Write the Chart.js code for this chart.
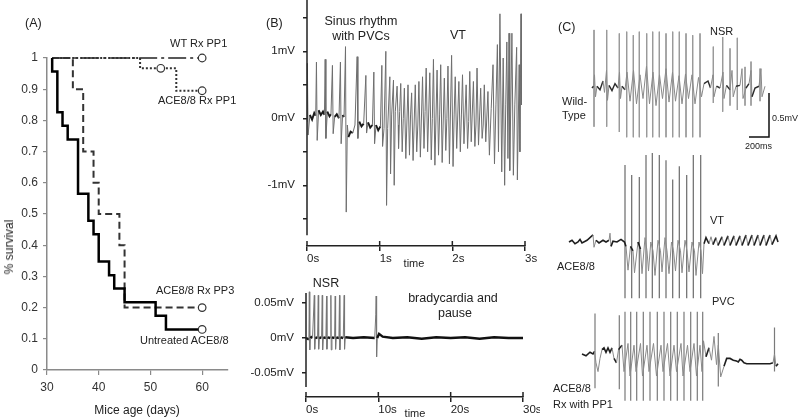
<!DOCTYPE html>
<html>
<head>
<meta charset="utf-8">
<script src="https://cdn.jsdelivr.net/npm/chart.js@4.4.0/dist/chart.umd.min.js"></script>
<style>
  body { margin: 0; width: 800px; height: 418px; background: #fff; overflow: hidden; position: relative; }
  canvas { position: absolute; }
  .t { position: absolute; font: 12px 'Liberation Sans', Arial, sans-serif; color: #222; white-space: nowrap; line-height: 14px; transform: translate(-50%, -50%); text-align: center; }
  .l { transform: translate(0, -50%); text-align: left; }
  .sm { font-size: 11px; }
  .xs { font-size: 9px; }
</style>
</head>
<body>
<canvas id="survival" style="left:0;top:0" width="280" height="418"></canvas>
<canvas id="ecgTop" style="left:240px;top:0" width="300" height="270"></canvas>
<canvas id="ecgBottom" style="left:240px;top:270px" width="300" height="148"></canvas>
<canvas id="traces" style="left:550px;top:0" width="250" height="418"></canvas>

<!-- panel A text -->
<div class="t l" style="left:25px;top:23px;font-size:12.5px">(A)</div>
<div class="t l sm" style="left:170px;top:43px">WT Rx PP1</div>
<div class="t l sm" style="left:158px;top:100px">ACE8/8 Rx PP1</div>
<div class="t l sm" style="left:156px;top:290px">ACE8/8 Rx PP3</div>
<div class="t l sm" style="left:140px;top:340px">Untreated ACE8/8</div>
<div class="t" style="left:9px;top:247px;transform:translate(-50%,-50%) rotate(-90deg)">% survival</div>
<div class="t" style="left:137px;top:410px">Mice age (days)</div>

<!-- panel B text -->
<div class="t l" style="left:266px;top:23px;font-size:12.5px">(B)</div>
<div class="t" style="left:361px;top:21px;font-size:12.5px">Sinus rhythm</div>
<div class="t" style="left:361px;top:36px;font-size:12.5px">with PVCs</div>
<div class="t" style="left:458px;top:35px;font-size:12.5px">VT</div>
<div class="t sm" style="left:414px;top:263px">time</div>
<div class="t" style="left:326px;top:283px;font-size:12.5px">NSR</div>
<div class="t" style="left:453px;top:298px;font-size:12.5px">bradycardia and</div>
<div class="t" style="left:455px;top:313px;font-size:12.5px">pause</div>
<div class="t sm" style="left:415px;top:413px">time</div>

<!-- panel C text -->
<div class="t l" style="left:558px;top:27px;font-size:12.5px">(C)</div>
<div class="t l sm" style="left:710px;top:31px">NSR</div>
<div class="t l sm" style="left:562px;top:101px">Wild-</div>
<div class="t l sm" style="left:562px;top:115px">Type</div>
<div class="t l xs" style="left:772px;top:118px">0.5mV</div>
<div class="t l xs" style="left:745px;top:146px">200ms</div>
<div class="t l sm" style="left:710px;top:220px">VT</div>
<div class="t l sm" style="left:557px;top:266px">ACE8/8</div>
<div class="t l sm" style="left:712px;top:301px">PVC</div>
<div class="t l sm" style="left:553px;top:388px">ACE8/8</div>
<div class="t l sm" style="left:553px;top:404px">Rx with PP1</div>

<script>
Chart.defaults.font.family = "'Liberation Sans', Arial, sans-serif";
Chart.defaults.color = '#333';

// (A) Kaplan-Meier survival, age in days vs fraction surviving
const untreatedDays = [31, 31, 32, 33, 34, 36, 38, 39, 40, 42, 43, 45, 51, 53, 60];
const untreatedSurv = [1, 0.957, 0.826, 0.783, 0.739, 0.565, 0.478, 0.435, 0.348, 0.304, 0.261, 0.217, 0.174, 0.130, 0.130];
const pp3Days = [31, 35, 37, 39, 40, 44, 45, 60];
const pp3Surv = [1, 0.9, 0.7, 0.6, 0.5, 0.4, 0.2, 0.2];
const pp1Days = [31, 48, 55, 60];
const pp1Surv = [1, 0.967, 0.895, 0.895];
const wtDays = [31, 60];
const wtSurv = [1, 1];
const censorDays = [60, 52, 60, 60, 60];
const censorSurv = [1, 0.967, 0.895, 0.2, 0.13];

// (B) top: seconds, mV
const vtTrace = [
  [0.00,-0.05],[0.005,0.82],[0.015,-0.25],[0.04,0.05],[0.07,-0.02],[0.10,0.08],[0.12,0.04],
  [0.13,0.84],[0.14,-0.33],[0.16,0.12],[0.19,0.05],[0.22,0.1],[0.24,0.05],
  [0.25,0.88],[0.26,-0.30],[0.28,0.1],[0.31,0.03],[0.33,0.06],
  [0.35,0.79],[0.36,-0.23],[0.38,0.02],[0.41,0.06],[0.44,0.0],
  [0.46,0.84],[0.47,-0.38],[0.49,0.05],[0.51,0.02],
  [0.53,1.07],[0.54,-1.40],[0.555,-0.1],[0.57,-0.28],[0.60,-0.2],[0.63,-0.22],[0.66,-0.1],
  [0.69,0.92],[0.70,-0.30],[0.72,-0.05],[0.75,-0.12],[0.78,-0.08],
  [0.81,0.64],[0.82,-0.22],[0.84,-0.06],[0.87,-0.14],[0.90,-0.1],
  [0.92,0.69],[0.93,-0.38],[0.95,-0.1],[0.98,-0.18],[1.01,-0.12],
  [1.03,0.79],[1.04,-0.42],[1.06,-0.15],
  [1.085,1.0],[1.095,-1.30],[1.11,-0.15],
  [1.14,0.62],[1.15,-0.83],[1.165,0.05],
  [1.19,0.57],[1.20,-1.0],[1.215,0.1],
  [1.24,0.48],[1.255,-0.1],[1.26,-0.45],[1.275,0.1],[1.29,0.52],[1.31,-0.5],[1.325,0.0],[1.34,0.45],[1.36,-0.6],[1.39,0.5],[1.41,-0.55],
  [1.425,0.05],[1.44,0.38],[1.46,-0.63],[1.49,0.5],[1.51,-0.5],[1.525,-0.1],[1.54,0.55],[1.56,-0.58],[1.59,0.62],[1.61,-0.45],
  [1.625,0.1],[1.64,0.75],[1.66,-0.5],[1.69,0.68],[1.71,-0.62],[1.725,0.0],[1.74,0.88],[1.76,-0.7],[1.79,0.72],[1.81,-0.55],
  [1.825,0.05],[1.84,0.8],[1.86,-0.66],[1.89,0.6],[1.91,-0.48],[1.925,0.0],[1.94,0.78],[1.96,-0.68],[1.99,0.94],[2.01,-0.72],
  [2.025,0.05],[2.04,0.62],[2.06,-0.45],[2.09,0.55],[2.11,-0.5],[2.125,0.05],[2.14,0.65],[2.16,-0.38],[2.19,0.5],[2.21,-0.45],
  [2.225,-0.05],[2.24,0.7],[2.26,-0.35],[2.29,0.55],[2.31,-0.42],[2.325,-0.1],[2.34,0.75],[2.36,-0.4],[2.39,0.45],[2.41,-0.3],
  [2.425,-0.1],[2.44,0.5],[2.46,-0.35],[2.49,0.4],[2.51,-0.55],[2.535,0.15],
  [2.56,0.8],[2.58,-0.68],[2.60,0.2],[2.62,1.1],[2.635,-0.5],[2.655,1.56],[2.68,-0.8],[2.70,0.9],[2.72,-1.0],
  [2.735,0.2],[2.75,1.14],[2.765,-0.6],[2.78,1.27],[2.79,-0.78],[2.82,1.27],[2.84,-0.85],[2.86,0.2],[2.885,1.06],[2.895,-0.92],
  [2.92,0.8],[2.93,-0.5],[2.945,1.56],[2.95,0.2]
];
// (B) bottom: seconds, mV
const bradyTrace = [
  [0.0,0.0],[0.4,-0.002],[0.46,0.066],[0.52,-0.017],[0.6,0.002],[0.9,0.0],
  [1.15,0.061],[1.2,-0.016],[1.3,0.001],[1.6,0.0],
  [1.70,0.061],[1.75,-0.016],[1.85,0.001],[2.15,0.0],
  [2.25,0.061],[2.3,-0.017],[2.4,0.001],[2.75,0.0],
  [2.84,0.06],[2.89,-0.016],[2.99,0.001],[3.35,0.0],
  [3.44,0.061],[3.49,-0.017],[3.59,0.001],[3.95,0.0],
  [4.04,0.06],[4.09,-0.016],[4.19,0.001],[4.55,0.0],
  [4.63,0.061],[4.68,-0.017],[4.78,0.001],[5.15,0.0],
  [5.28,0.061],[5.33,-0.016],[5.43,0.001],
  [6.5,0.0],[8.0,0.001],[9.5,0.0],[9.65,0.034],[9.7,0.06],[9.76,-0.027],[9.85,0.0],[10.1,0.006],[10.6,0.002],
  [12,0.0],[14,0.001],[16,-0.001],[18,0.001],[20,0.0],[22,0.001],[24,-0.001],[26,0.001],[28,0.0],[30.0,0.0],
  [30.8,0.0],[30.87,0.071],[30.93,-0.024],[31.05,0.0],[31.5,0.01],[32.0,0.004],[32.8,0.001]
];

// (C) traces: ms, mV (baseline = 0)
const wtTrace = [
  [0,0],[15,0.02],[25,0.15],[35,-0.1],[50,0.02],[80,-0.02],[110,0.08],[125,-0.05],[145,0.2],[155,-0.14],
  [170,0.03],[200,-0.03],[230,0.05],[260,0.0],[275,0.18],[285,-0.12],[300,0.02],[330,-0.02],
  [350,0.18],[380,-0.15],[415,0.2],[445,-0.18],[480,0.15],[510,-0.12],[545,0.25],[575,-0.18],[610,0.18],[640,-0.2],
  [675,0.15],[705,-0.12],[740,0.22],[770,-0.16],[805,0.18],[835,-0.15],[870,0.14],[900,-0.18],[935,0.16],[965,-0.12],
  [1000,0.15],[1030,-0.18],[1065,0.12],[1095,-0.1],
  [1120,0.05],[1160,0.08],[1185,0.0],[1210,0.15],[1220,-0.1],[1245,0.02],[1280,0.0],[1310,0.18],[1320,-0.12],
  [1345,0.03],[1380,-0.02],[1400,0.2],[1412,-0.1],[1440,0.02],[1480,0.03],[1500,0.22],[1510,-0.12],[1540,0.0],
  [1570,0.05],[1590,0.2],[1600,-0.1],[1630,0.0],[1670,0.02],[1690,0.22],[1700,-0.1],[1730,0.02]
];
const wtSpikeT = [20, 147, 273, 347, 413, 473, 547, 607, 673, 740, 807, 873, 940, 1007, 1080, 1213, 1307, 1380, 1453, 1530, 1590, 1680];
const wtSpikeUp = [0.66, 0.66, 0.62, 0.64, 0.6, 0.64, 0.62, 0.64, 0.64, 0.62, 0.64, 0.64, 0.62, 0.6, 0.62, 0.47, 0.58, 0.45, 0.57, 0.24, 0.3, 0.22];
const wtSpikeDown = [-0.44, -0.44, -0.5, -0.56, -0.56, -0.56, -0.56, -0.56, -0.56, -0.56, -0.56, -0.56, -0.56, -0.56, -0.56, -0.17, -0.27, -0.2, -0.25, -0.2, -0.2, -0.15];

const aceTrace = [
  [0,0],[30,0.02],[60,-0.02],[90,0.0],[110,0.03],[130,-0.01],[180,0.02],[240,0.08],[250,-0.06],[270,0.02],
  [300,-0.01],[340,0.02],[370,0.0],[400,0.02],[410,0.1],[420,-0.05],[440,0.01],[480,0.0],[520,0.03],[555,0.0],
  [570,-0.05],[590,-0.32],[615,-0.05],[640,-0.1],[655,-0.35],[690,0.0],[715,-0.08],[730,-0.36],[760,0.05],
  [780,-0.1],[795,-0.33],[818,0.0],[840,-0.1],[860,-0.38],[890,0.02],[915,-0.1],[930,-0.34],[960,0.05],
  [980,-0.1],[1000,-0.36],[1025,0.0],[1045,-0.1],[1065,-0.33],[1090,0.02],[1115,-0.1],[1130,-0.35],[1160,0.02],
  [1180,-0.1],[1200,-0.34],[1230,0.0],[1255,-0.1],[1270,-0.38],[1300,0.0],[1320,-0.1],[1335,-0.36],[1350,-0.02],
  [1370,0.05],[1400,-0.02],[1420,0.06],[1440,-0.03],[1470,0.05],[1490,-0.04],[1530,0.06],[1550,-0.04],
  [1590,0.07],[1610,-0.04],[1650,0.07],[1670,-0.04],[1710,0.07],[1730,-0.04],[1770,0.08],[1790,-0.04],
  [1830,0.08],[1850,-0.04],[1890,0.08],[1910,-0.04],[1950,0.08],[1970,-0.04],[2010,0.08],[2030,-0.03],
  [2070,0.07],[2090,0.0]
];
const aceSpikeT = [560, 627, 703, 770, 833, 903, 970, 1037, 1103, 1177, 1243, 1317];
const aceSpikeUp = [0.875, 0.76, 0.74, 0.99, 1.01, 0.99, 0.93, 0.71, 0.86, 0.76, 0.99, 0.99];
const aceSpikeDown = [-0.64, -0.64, -0.64, -0.64, -0.64, -0.64, -0.64, -0.64, -0.64, -0.64, -0.64, -0.64];

const pp1Trace = [
  [0,0],[40,-0.02],[80,0.02],[110,0.0],[125,0.03],[140,-0.1],[160,-0.2],[180,-0.05],[200,0.05],[220,0.07],
  [240,0.02],[260,0.07],[280,0.02],[300,0.07],[320,-0.05],[345,-0.1],[365,0.05],
  [400,0.1],[420,-0.2],[460,0.12],[480,-0.25],[520,0.1],[540,-0.2],[585,0.12],[605,-0.25],[650,0.1],[670,-0.2],
  [715,0.12],[745,-0.25],[790,0.1],[810,-0.2],[855,0.12],[880,-0.25],[920,0.1],[945,-0.2],[990,0.12],[1010,-0.25],
  [1055,0.1],[1080,-0.2],[1120,0.12],[1145,-0.25],[1180,0.1],[1200,-0.2],
  [1215,0.15],[1240,-0.03],[1270,0.07],[1295,-0.07],[1320,0.2],[1345,-0.12],[1363,0.1],[1387,-0.26],[1420,-0.14],
  [1447,-0.05],[1480,-0.05],[1513,-0.07],[1545,-0.08],[1563,-0.09],[1580,-0.06],[1597,-0.07],[1620,-0.1],
  [1647,-0.11],[1700,-0.11],[1800,-0.11],[1880,-0.11],[1910,-0.1],[1925,0.0],[1940,-0.14],[1960,-0.11]
];
const pp1SpikeT = [130, 373, 430, 487, 547, 613, 680, 753, 820, 887, 953, 1020, 1087, 1153, 1207, 1363, 1925];
const pp1SpikeUp = [0.46, 0.44, 0.48, 0.48, 0.48, 0.48, 0.48, 0.48, 0.48, 0.48, 0.48, 0.48, 0.48, 0.48, 0.48, 0.24, 0.3];
const pp1SpikeDown = [-0.39, -0.4, -0.53, -0.53, -0.53, -0.53, -0.53, -0.53, -0.53, -0.53, -0.53, -0.53, -0.53, -0.53, -0.53, -0.37, -0.2];

// scale bar 200 ms x 0.5 mV, in wild-type trace units
const scaleBarT = [1570, 1770, 1770];
const scaleBarV = [-0.557, -0.557, -0.057];

const pts = (xs, ys) => xs.map((x, i) => ({ x, y: ys[i] }));
const pairs = arr => arr.map(([x, y]) => ({ x, y }));
const spikes = (ts, up, down) => ts.flatMap((t, i) => [{ x: t, y: up[i] }, { x: t, y: down[i] }, { x: t, y: null }]);
const fix = (w, h) => s => {
  if (w != null) s.width = w;
  if (h != null) s.height = h;
  s.paddingTop = s.paddingBottom = s.paddingLeft = s.paddingRight = 0;
};
const base = { responsive: false, animation: false, devicePixelRatio: 1, plugins: { legend: { display: false }, tooltip: { enabled: false } } };

// steep strokes of a scanned trace look thin and gray, flat ones dark
const steep = ctx => Math.abs(ctx.p1.y - ctx.p0.y) > 2.5 * Math.abs(ctx.p1.x - ctx.p0.x) + 2;
const inkSegment = (flatColor, steepColor, flatW, steepW) => ({
  borderColor: ctx => steep(ctx) ? steepColor : flatColor,
  borderWidth: ctx => steep(ctx) ? steepW : flatW
});

// ---- (A)
const gray = '#8a8a8a';
new Chart(document.getElementById('survival'), {
  type: 'line',
  data: {
    datasets: [
      { data: pts(censorDays, censorSurv), showLine: false, pointRadius: 3.8, pointBorderColor: '#333', pointBackgroundColor: '#fff', pointBorderWidth: 1.2 },
      { data: pts(untreatedDays, untreatedSurv), stepped: 'before', borderColor: '#000', borderWidth: 2.5, pointRadius: 0 },
      { data: pts(pp3Days, pp3Surv), stepped: 'before', borderColor: '#333', borderWidth: 2, borderDash: [7, 4], pointRadius: 0 },
      { data: pts(pp1Days, pp1Surv), stepped: 'before', borderColor: '#333', borderWidth: 2, borderDash: [2, 2], pointRadius: 0 },
      { data: pts(wtDays, wtSurv), borderColor: '#222', borderWidth: 1.5, borderDash: [18, 4, 3, 4], pointRadius: 0 }
    ].map(d => ({ ...d, clip: false }))
  },
  options: {
    ...base,
    layout: { padding: { top: 58, right: 52, left: 0, bottom: 0 } },
    scales: {
      x: { type: 'linear', min: 30, max: 65,
        ticks: { stepSize: 10, includeBounds: false, font: { size: 12 }, color: '#333', padding: 5 },
        grid: { drawOnChartArea: false, tickLength: 5, color: gray, lineWidth: 1.2 },
        border: { color: gray, width: 1.5 }, afterFit: fix(null, 48) },
      y: { min: 0, max: 1,
        ticks: { stepSize: 0.1, font: { size: 12 }, color: '#333', padding: 5, callback: v => String(Math.round(v * 10) / 10) },
        grid: { drawOnChartArea: false, tickLength: 4, color: gray, lineWidth: 1.2 },
        border: { color: gray, width: 1.5 }, afterFit: fix(47, null) }
    }
  }
});

// ---- (B) axes: y line stops short of the x axis, x ticks cross the axis
const ecgAxes = {
  id: 'ecgAxes',
  afterDraw(chart, args, opts) {
    const { ctx, chartArea, scales: { x, y } } = chart;
    ctx.save();
    ctx.strokeStyle = '#222';
    ctx.lineWidth = 1.5;
    ctx.beginPath();
    ctx.moveTo(chartArea.left, chartArea.top);
    ctx.lineTo(chartArea.left, y.getPixelForValue(opts.yEnd));
    x.ticks.forEach(t => {
      const px = x.getPixelForValue(t.value);
      ctx.moveTo(px, chartArea.bottom - 5);
      ctx.lineTo(px, chartArea.bottom);
    });
    ctx.stroke();
    ctx.restore();
  }
};
const mvLabel = v => Math.abs(v - Math.round(v)) < 1e-6 ? Math.round(v) + 'mV' : '';

new Chart(document.getElementById('ecgTop'), {
  type: 'line',
  data: { datasets: [{ data: pairs(vtTrace), pointRadius: 0, clip: false, segment: inkSegment('#1a1a1a', '#6e6e6e', 1.9, 1) }] },
  options: {
    ...base,
    layout: { padding: { top: 0, right: 15, left: 0, bottom: 0 } },
    plugins: { ...base.plugins, ecgAxes: { yEnd: -1.745 } },
    scales: {
      x: { type: 'linear', min: 0, max: 3,
        ticks: { stepSize: 1, align: 'start', callback: v => v + 's', font: { size: 11.5 }, color: '#222', padding: 1 },
        grid: { drawOnChartArea: false, tickLength: 5, color: '#222', lineWidth: 1.5 },
        border: { color: '#222', width: 1.5 }, afterFit: fix(null, 24) },
      y: { min: -1.906, max: 1.766,
        ticks: { stepSize: 0.5, includeBounds: false, callback: mvLabel, font: { size: 11.5 }, color: '#222', padding: 8 },
        grid: { drawOnChartArea: false, tickLength: 4, color: '#222', lineWidth: 1.5 },
        border: { display: false }, afterFit: fix(67, null) }
    }
  },
  plugins: [ecgAxes]
});

const mvSmall = v => {
  const r = Math.round(v * 100) / 100;
  return r === 0 ? '0mV' : r + 'mV';
};
new Chart(document.getElementById('ecgBottom'), {
  type: 'line',
  data: { datasets: [{ data: pairs(bradyTrace), pointRadius: 0, clip: false, segment: inkSegment('#111', '#777', 2.4, 1) }] },
  options: {
    ...base,
    layout: { padding: { top: 23, right: 17, left: 0, bottom: 0 } },
    plugins: { ...base.plugins, ecgAxes: { yEnd: -0.07 } },
    scales: {
      x: { type: 'linear', min: 0, max: 30,
        ticks: { stepSize: 10, align: 'start', callback: v => v + 's', font: { size: 11.5 }, color: '#222', padding: 1 },
        grid: { drawOnChartArea: false, tickLength: 5, color: '#222', lineWidth: 1.5 },
        border: { color: '#222', width: 1.5 }, afterFit: fix(null, 21) },
      y: { min: -0.0843, max: 0.0643,
        ticks: { stepSize: 0.05, includeBounds: false, callback: mvSmall, font: { size: 11.5 }, color: '#222', padding: 8 },
        grid: { drawOnChartArea: false, tickLength: 4, color: '#222', lineWidth: 1.5 },
        border: { display: false }, afterFit: fix(66, null) }
    }
  },
  plugins: [ecgAxes]
});

// ---- (C) three traces on their own hidden axes, same ms/mV scale
const hidden = (min, max) => ({ type: 'linear', display: false, min, max });
new Chart(document.getElementById('traces'), {
  type: 'line',
  data: {
    datasets: [
      { data: pts(scaleBarT, scaleBarV), xAxisID: 'x1', yAxisID: 'y1', borderColor: '#111', borderWidth: 1.5 },
      { data: pairs(wtTrace), xAxisID: 'x1', yAxisID: 'y1', segment: inkSegment('#2a2a2a', '#8a8a8a', 1.4, 1) },
      { data: pairs(aceTrace), xAxisID: 'x2', yAxisID: 'y2', segment: inkSegment('#1e1e1e', '#8a8a8a', 1.6, 1) },
      { data: pairs(pp1Trace), xAxisID: 'x3', yAxisID: 'y3', segment: inkSegment('#1e1e1e', '#8a8a8a', 1.6, 1) },
      { data: spikes(wtSpikeT, wtSpikeUp, wtSpikeDown), xAxisID: 'x1', yAxisID: 'y1', borderColor: '#9a9a9a', borderWidth: 1 },
      { data: spikes(aceSpikeT, aceSpikeUp, aceSpikeDown), xAxisID: 'x2', yAxisID: 'y2', borderColor: '#6a6a6a', borderWidth: 1.2 },
      { data: spikes(pp1SpikeT, pp1SpikeUp, pp1SpikeDown), xAxisID: 'x3', yAxisID: 'y3', borderColor: '#7a7a7a', borderWidth: 1.2 }
    ].map(d => ({ ...d, pointRadius: 0, clip: false, spanGaps: false }))
  },
  options: {
    ...base,
    layout: { padding: 0 },
    scales: {
      x1: hidden(-420, 2080), y1: hidden(-3.75, 1.0),
      x2: hidden(-190, 2310), y2: hidden(-2.0, 2.75),
      x3: hidden(-320, 2180), y3: hidden(-0.727, 4.023)
    }
  }
});
</script>
</body>
</html>
